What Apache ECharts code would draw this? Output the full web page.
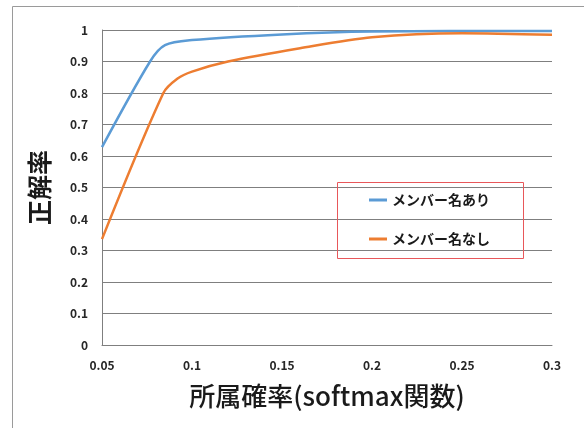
<!DOCTYPE html>
<html>
<head>
<meta charset="utf-8">
<script src="https://cdn.jsdelivr.net/npm/echarts@6/dist/echarts.min.js"></script>
<style>
  html, body { margin: 0; padding: 0; background: #fff; }
  #chart { width: 584px; height: 428px; }
</style>
</head>
<body>
<div id="chart"></div>
<script>
// Accuracy vs. softmax membership-probability threshold
const seriesNames = ['メンバー名あり', 'メンバー名なし'];
const xTicks = [0.05, 0.1, 0.15, 0.2, 0.25, 0.3];

// [threshold, accuracy] pairs for each curve
const withMemberName = [
  [0.05, 0.628], [0.0767, 0.90], [0.085, 0.952], [0.1, 0.968],
  [0.15, 0.986], [0.2, 0.995], [0.3, 0.997]
];
const withoutMemberName = [
  [0.05, 0.336], [0.0841, 0.80], [0.092, 0.846], [0.1, 0.868],
  [0.12, 0.900], [0.16, 0.942], [0.2, 0.977], [0.25, 0.990], [0.3, 0.985]
];

const font = '"Noto Sans CJK JP", "Noto Sans", sans-serif';
const chart = echarts.init(document.getElementById('chart'), null, { renderer: 'canvas' });

chart.setOption({
  animation: false,
  backgroundColor: '#ffffff',
  textStyle: { fontFamily: font },
  grid: { left: 102, right: 32, top: 30, bottom: 83 },
  graphic: [
    {
      type: 'rect', silent: true,
      shape: { x: 12.5, y: 6.5, width: 700, height: 600 },
      style: { fill: 'none', stroke: '#9a9a9a', lineWidth: 1 }
    },
    {
      type: 'rect', silent: true, z: 10,
      shape: { x: 337.5, y: 182.5, width: 186, height: 76 },
      style: { fill: 'none', stroke: '#e8575a', lineWidth: 1 }
    }
  ],
  legend: {
    orient: 'vertical',
    left: 369, top: 190,
    padding: 0,
    itemGap: 19,
    itemWidth: 18, itemHeight: 3,
    icon: 'rect',
    textStyle: { fontFamily: font, fontSize: 14, fontWeight: 'bold', color: '#1a1a1a', lineHeight: 20 },
    data: seriesNames
  },
  xAxis: {
    type: 'value',
    min: 0.05, max: 0.3, interval: 0.05,
    name: '所属確率(softmax関数)',
    nameLocation: 'middle',
    nameGap: 38,
    nameTextStyle: { fontFamily: font, fontSize: 26, fontWeight: 500, color: '#1a1a1a' },
    axisLine: { show: true, lineStyle: { color: '#7f7f7f', width: 1 } },
    axisTick: { show: false },
    splitLine: { show: false },
    axisLabel: {
      margin: 14,
      fontFamily: font, fontSize: 12, fontWeight: 'bold', color: '#262626',
      formatter: v => String(+v.toFixed(2))
    }
  },
  yAxis: {
    type: 'value',
    min: 0, max: 1, interval: 0.1,
    name: '正解率',
    nameLocation: 'middle',
    nameGap: 50,
    nameRotate: 90,
    nameTextStyle: { fontFamily: font, fontSize: 25, fontWeight: 'bold', color: '#1a1a1a' },
    axisLine: { show: true, lineStyle: { color: '#7f7f7f', width: 1 } },
    axisTick: { show: false },
    splitLine: { show: true, lineStyle: { color: '#7f7f7f', width: 1 } },
    axisLabel: {
      margin: 14,
      fontFamily: font, fontSize: 12, fontWeight: 'bold', color: '#262626',
      formatter: v => String(+v.toFixed(1))
    }
  },
  series: [
    {
      name: seriesNames[0], type: 'line', data: withMemberName,
      smooth: 0.3, showSymbol: false, symbol: 'none',
      itemStyle: { color: '#5b9bd5' },
      lineStyle: { color: '#5b9bd5', width: 2.5 }
    },
    {
      name: seriesNames[1], type: 'line', data: withoutMemberName,
      smooth: 0.3, showSymbol: false, symbol: 'none',
      itemStyle: { color: '#ed7d31' },
      lineStyle: { color: '#ed7d31', width: 2.5 }
    }
  ]
});
</script>
</body>
</html>
